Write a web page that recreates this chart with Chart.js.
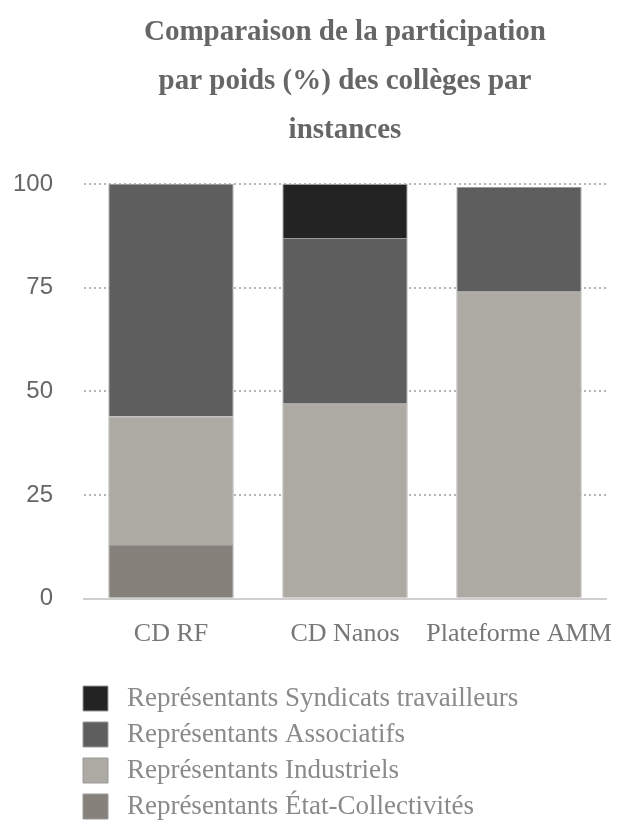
<!DOCTYPE html>
<html>
<head>
<meta charset="utf-8">
<script src="https://cdn.jsdelivr.net/npm/chart.js@4"></script>
<style>
  html, body { margin: 0; padding: 0; background: #fff; }
  #wrap { width: 619px; height: 824px; }
</style>
</head>
<body>
<div id="wrap"><canvas id="participation"></canvas></div>
<script>
const instances = ['CD RF', 'CD Nanos', 'Plateforme AMM'];
const etat = [13, null, null];
const industriels = [31, 47, 74];
const associatifs = [56, 40, 25.3];
const syndicats = [null, 13, null];
const yTicks = [0, 25, 50, 75, 100];

const serif = '"Liberation Serif", "DejaVu Serif", serif';
const sans = '"Liberation Sans", Arial, sans-serif';

// legend sits a bit left of the plot area in the original
const shiftLegend = {
    id: 'shiftLegend',
    afterLayout(chart) {
        chart.legend.left -= 10;
        chart.legend.right -= 10;
    }
};

const ctx = document.getElementById('participation').getContext('2d');
const participation = new Chart(ctx, {
    type: 'bar',
    data: {
        labels: instances,
        datasets: [
            { label: 'Représentants État-Collectivités', data: etat, backgroundColor: '#86827b' },
            { label: 'Représentants Industriels', data: industriels, backgroundColor: '#ada9a3' },
            { label: 'Représentants Associatifs', data: associatifs, backgroundColor: '#5e5e5e' },
            { label: 'Représentants Syndicats travailleurs', data: syndicats, backgroundColor: '#232323' }
        ].map(d => Object.assign(d, {
            borderColor: '#9a9a9a',
            borderWidth: 1,
            categoryPercentage: 0.8,
            barPercentage: 0.9
        }))
    },
    plugins: [shiftLegend],
    options: {
        responsive: true,
        maintainAspectRatio: false,
        animation: false,
        layout: { padding: { left: 12, right: 13, top: 8, bottom: -6 } },
        plugins: {
            title: {
                display: true,
                fullSize: false,
                text: ['Comparaison de la participation', 'par poids (%) des collèges par', 'instances'],
                color: '#666',
                font: { family: serif, size: 29, weight: 'bold', lineHeight: 1.69 },
                padding: { top: 0, bottom: 29 }
            },
            legend: {
                position: 'bottom',
                align: 'start',
                fullSize: false,
                reverse: true,
                labels: {
                    color: '#8a8a8a',
                    font: { family: serif, size: 27 },
                    boxWidth: 25,
                    boxHeight: 25,
                    padding: 9,
                    generateLabels: chart => Chart.defaults.plugins.legend.labels.generateLabels(chart)
                        .map(l => Object.assign(l, { text: '\u2009' + l.text }))
                }
            },
            tooltip: { enabled: false }
        },
        scales: {
            x: {
                stacked: true,
                grid: { display: false },
                border: { display: true, color: '#cfcfcf', width: 2 },
                ticks: {
                    color: '#777',
                    font: { family: serif, size: 26 },
                    padding: 12,
                    maxRotation: 0,
                    minRotation: 0,
                    autoSkip: false
                },
                afterFit: axis => {
                    axis.height += 14;
                    axis.paddingLeft = 0;
                    axis.paddingRight = 0;
                }
            },
            y: {
                stacked: true,
                min: 0,
                max: 100,
                afterBuildTicks: axis => { axis.ticks = yTicks.map(v => ({ value: v })); },
                afterFit: axis => { axis.width = 72; },
                grid: { color: '#b5b5b5', lineWidth: 2, tickLength: 0 },
                border: { display: false, dash: [2, 3] },
                ticks: { color: '#666', font: { family: sans, size: 24 }, padding: 31 }
            }
        }
    }
});
</script>
</body>
</html>
